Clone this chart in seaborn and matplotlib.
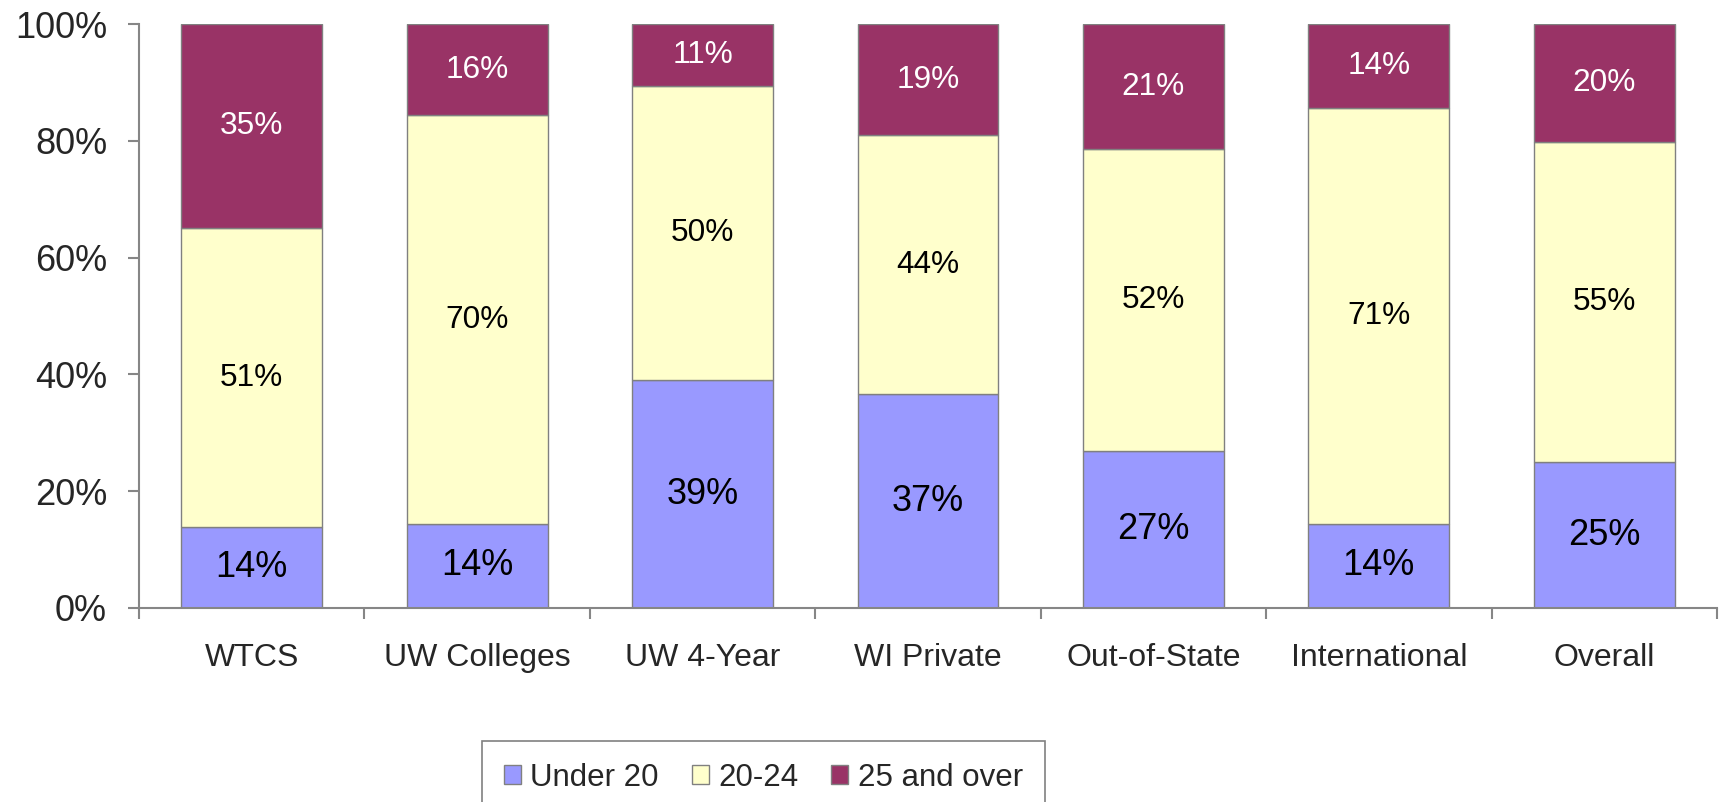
import numpy as np
import pandas as pd
import matplotlib
matplotlib.use('Agg')
import matplotlib.pyplot as plt
from matplotlib.patches import Patch
from matplotlib.ticker import FixedLocator, PercentFormatter
import seaborn as sns

# data (percent of students)
categories = ['WTCS', 'UW Colleges', 'UW 4-Year', 'WI Private', 'Out-of-State', 'International', 'Overall']
under_20 = [13.9, 14.4, 39.0, 36.6, 26.9, 14.4, 25.0]
age_20_24 = [51.1, 70.0, 50.4, 44.4, 51.7, 71.2, 54.8]
over_25 = [35.0, 15.6, 10.6, 19.0, 21.4, 14.4, 20.2]
series_names = ['Under 20', '20-24', '25 and over']
y_ticks = [0, 20, 40, 60, 80, 100]

colors = ['#9999FF', '#FFFFCC', '#993366']
label_colors = ['black', 'black', 'white']
label_sizes = [26, 22.8, 22.8]

sns.set_style('white')
plt.rcParams['font.family'] = ['Liberation Sans', 'DejaVu Sans']

df = pd.DataFrame({'category': categories, 'Under 20': under_20,
                   '20-24': age_20_24, '25 and over': over_25})

fig = plt.figure(figsize=(17.23, 8.02), dpi=100)
ax = fig.add_axes([0.0807, 0.2419, 0.9158, 0.7281])

bottom = np.zeros(len(categories))
for name, col, lcol, lsize in zip(series_names, colors, label_colors, label_sizes):
    vals = df[name].to_numpy()
    sns.barplot(data=df, x='category', y=name, bottom=bottom, color=col,
                width=0.625, edgecolor='#808080', linewidth=1.0, ax=ax,
                saturation=1, errorbar=None)
    for i, v in enumerate(vals):
        ax.text(i, bottom[i] + v / 2, f'{round(v):d}%', ha='center', va='center',
                color=lcol, fontsize=lsize)
    bottom = bottom + vals

ax.set_xlim(-0.5, len(categories) - 0.5)
ax.set_ylim(0, 100)
ax.set_xlabel('')
ax.set_ylabel('')
ax.yaxis.set_major_locator(FixedLocator(y_ticks))
ax.yaxis.set_major_formatter(PercentFormatter(decimals=0))

for s in ['top', 'right']:
    ax.spines[s].set_visible(False)
for s in ['left', 'bottom']:
    ax.spines[s].set_color('#868686')
    ax.spines[s].set_linewidth(1.5)

ax.tick_params(axis='y', direction='out', length=8, width=1.5, color='#868686',
               labelsize=26, pad=15, left=True)
ax.tick_params(axis='x', which='major', length=0, labelsize=23, pad=25)
ax.xaxis.set_minor_locator(FixedLocator(np.arange(-0.5, len(categories), 1.0)))
ax.tick_params(axis='x', which='minor', direction='out', length=8, width=1.5,
               color='#868686', bottom=True)

handles = [Patch(facecolor=c, edgecolor='#808080', linewidth=1.0) for c in colors]
leg = fig.legend(handles, series_names, loc='upper center',
                 bbox_to_anchor=(0.443, 1 - 741 / 802),
                 ncol=3, fontsize=22.5, frameon=True, fancybox=False, framealpha=1,
                 edgecolor='#808080', handlelength=0.55, handleheight=0.55,
                 handletextpad=0.3, columnspacing=1.05, borderpad=0.7,
                 borderaxespad=0)
leg.get_frame().set_linewidth(1.2)

fig.savefig('out.png', dpi=100)
plt.close()
